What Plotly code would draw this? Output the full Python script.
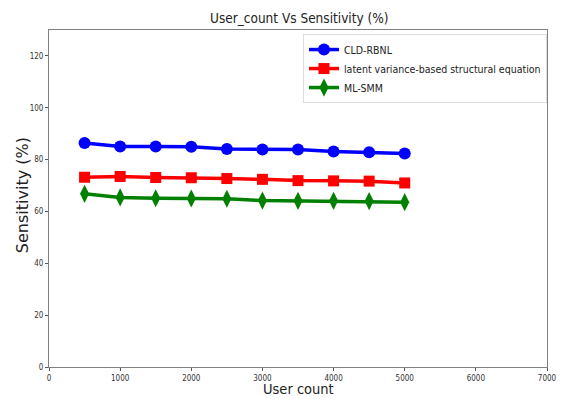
import plotly.graph_objects as go

user_count = [500, 1000, 1500, 2000, 2500, 3000, 3500, 4000, 4500, 5000]
cld_rbnl = [86.4, 85.1, 85.1, 85.0, 84.1, 83.9, 83.9, 83.1, 82.8, 82.4]
latent_vbse = [73.2, 73.5, 73.1, 73.0, 72.7, 72.4, 71.9, 71.8, 71.7, 71.0]
ml_smm = [66.8, 65.4, 65.1, 65.0, 64.9, 64.2, 64.1, 64.1, 64.0, 63.6]
x_ticks = [0, 1000, 2000, 3000, 4000, 5000, 6000, 7000]
y_ticks = [0, 20, 40, 60, 80, 100, 120]

font_c = "DejaVu Sans Condensed, DejaVu Sans, sans-serif"

fig = go.Figure()
fig.add_trace(go.Scatter(x=user_count, y=cld_rbnl, name="CLD-RBNL", mode="lines+markers",
                         line=dict(color="#0000ff", width=3.5),
                         marker=dict(symbol="circle", size=12, color="#0000ff")))
fig.add_trace(go.Scatter(x=user_count, y=latent_vbse, name="latent variance-based structural equation",
                         mode="lines+markers", line=dict(color="#ff0000", width=3.5),
                         marker=dict(symbol="square", size=11, color="#ff0000")))
fig.add_trace(go.Scatter(x=user_count, y=ml_smm, name="ML-SMM", mode="lines+markers",
                         line=dict(color="#008000", width=3.5),
                         marker=dict(symbol="diamond-tall", size=13, color="#008000")))

axis_common = dict(showgrid=False, zeroline=False, showline=True, linecolor="#808080",
                   linewidth=1, mirror=True, ticks="outside", ticklen=3, tickcolor="#555",
                   automargin=False,
                   tickfont=dict(family=font_c, size=8, color="#333"))

fig.update_layout(
    width=557, height=391,
    margin=dict(l=41, r=18, t=22, b=32),
    paper_bgcolor="white", plot_bgcolor="white",
    title=dict(text="User_count Vs Sensitivity (%)", x=0.523, xanchor="center", y=0.975, yanchor="middle",
               font=dict(family=font_c, size=13.5, color="#222")),
    xaxis=dict(range=[0, 7000], tickvals=x_ticks, ticktext=[str(v) for v in x_ticks], **axis_common),
    yaxis=dict(range=[0, 130], tickvals=y_ticks, ticktext=[str(v) for v in y_ticks], **axis_common),
    legend=dict(x=0.51, y=0.988, xanchor="left", yanchor="top", bgcolor="white",
                bordercolor="#ddd", borderwidth=1,
                font=dict(family=font_c, size=10.5, color="#222"), itemwidth=30),
    showlegend=True,
    annotations=[
        dict(text="User count", xref="paper", yref="paper", x=0.5, y=0, yshift=-22,
             xanchor="center", yanchor="middle", showarrow=False,
             font=dict(family=font_c, size=14.5, color="#222")),
        dict(text="Sensitivity (%)", xref="paper", yref="paper", x=0, y=0.51, xshift=-27,
             xanchor="center", yanchor="middle", showarrow=False, textangle=-90,
             font=dict(family="DejaVu Sans", size=16, color="#222")),
    ],
)

fig.write_html("out.html")
